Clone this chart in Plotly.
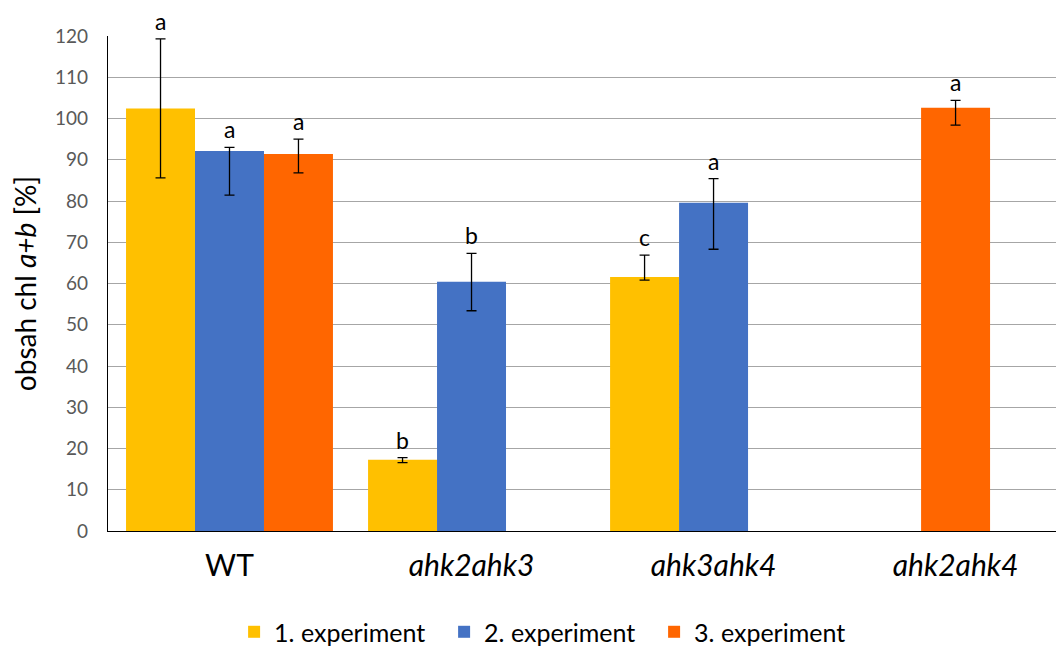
import plotly.graph_objects as go

categories = ["WT", "ahk2ahk3", "ahk3ahk4", "ahk2ahk4"]
tick_labels = ["WT", "<i>ahk2ahk3</i>", "<i>ahk3ahk4</i>", "<i>ahk2ahk4</i>"]
series_names = ["1. experiment", "2. experiment", "3. experiment"]

exp1 = [102.4, 17.3, 61.6, None]
exp1_hi = [119.3, 17.8, 66.9, None]
exp1_lo = [85.6, 16.6, 60.8, None]
exp1_letters = ["a", "b", "c", None]

exp2 = [92.1, 60.4, 79.6, None]
exp2_hi = [93.0, 67.3, 85.4, None]
exp2_lo = [81.4, 53.4, 68.3, None]
exp2_letters = ["a", "b", "a", None]

exp3 = [91.4, None, None, 102.6]
exp3_hi = [95.0, None, None, 104.4]
exp3_lo = [86.8, None, None, 98.4]
exp3_letters = ["a", None, None, "a"]

colors = ["#FFC000", "#4472C4", "#FF6600"]

bar_w = 0.285
slot_offsets = [-1.5 * bar_w, -0.5 * bar_w, 0.5 * bar_w]

fig = go.Figure()
annotations = []

series = [
    (exp1, exp1_hi, exp1_lo, exp1_letters),
    (exp2, exp2_hi, exp2_lo, exp2_letters),
    (exp3, exp3_hi, exp3_lo, exp3_letters),
]

for si, (vals, hi, lo, letters) in enumerate(series):
    xs, ys, eplus, eminus, offs = [], [], [], [], []
    for ci, v in enumerate(vals):
        if v is None:
            continue
        present = sum(1 for s in series if s[0][ci] is not None)
        off = slot_offsets[si] if present > 1 else -0.5 * bar_w
        xs.append(ci)
        ys.append(v)
        eplus.append(hi[ci] - v)
        eminus.append(v - lo[ci])
        offs.append(off)
        annotations.append(dict(
            x=ci + off + bar_w / 2, y=hi[ci], xref="x", yref="y",
            text=letters[ci], showarrow=False, yanchor="bottom",
            yshift=2, font=dict(size=23, color="#000000"),
        ))
    fig.add_trace(go.Bar(
        x=xs, y=ys, name=series_names[si],
        marker=dict(color=colors[si], line=dict(width=0)),
        width=bar_w, offset=offs,
        error_y=dict(type="data", symmetric=False, array=eplus, arrayminus=eminus,
                     color="#000000", thickness=1.3, width=5),
    ))

fig.update_layout(
    width=1064, height=646,
    barmode="overlay",
    paper_bgcolor="white", plot_bgcolor="white",
    margin=dict(l=100, r=8, t=28, b=123, autoexpand=False),
    font=dict(family="Lato, Liberation Sans, sans-serif", color="#595959"),
    annotations=annotations,
    legend=dict(orientation="h", xref="paper", x=0.4614, xanchor="center",
                yref="container", y=0.034, yanchor="middle",
                font=dict(size=25, color="#000000"), itemwidth=30,
                entrywidth=165, entrywidthmode="pixels",
                traceorder="normal"),
    showlegend=True,
)

fig.update_xaxes(
    range=[-0.502, 3.448], tickmode="array", tickvals=list(range(len(categories))),
    ticktext=tick_labels, tickfont=dict(size=30, color="#000000"),
    showline=True, linecolor="#000000", linewidth=1.3, showgrid=False,
    ticks="", ticklabelstandoff=8, zeroline=False, automargin=False,
)
fig.update_yaxes(
    range=[0, 120], dtick=10, tickfont=dict(size=19, color="#595959"),
    showgrid=True, gridcolor="#A6A6A6", gridwidth=1.2,
    showline=True, linecolor="#000000", linewidth=1.3, zeroline=False,
    ticks="", ticklabelstandoff=15, automargin=False,
    title=dict(text="obsah chl <i>a+b</i> [%]", font=dict(size=28, color="#000000"), standoff=14),
)

fig.write_html("out.html")
